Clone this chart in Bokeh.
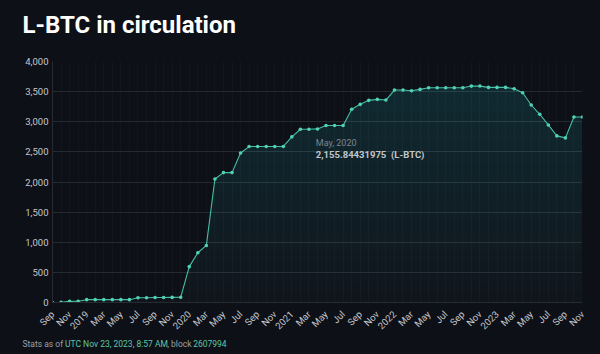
import numpy as np
from bokeh.plotting import figure
from bokeh.layouts import column
from bokeh.models import Range1d, FixedTicker, NumeralTickFormatter, Label
from bokeh.embed import file_html
from bokeh.resources import INLINE

# Monthly L-BTC in circulation, Sep 2018 .. Nov 2023
months = [
    "2018-09", "2018-10", "2018-11", "2018-12",
    "2019-01", "2019-02", "2019-03", "2019-04", "2019-05", "2019-06",
    "2019-07", "2019-08", "2019-09", "2019-10", "2019-11", "2019-12",
    "2020-01", "2020-02", "2020-03", "2020-04", "2020-05", "2020-06",
    "2020-07", "2020-08", "2020-09", "2020-10", "2020-11", "2020-12",
    "2021-01", "2021-02", "2021-03", "2021-04", "2021-05", "2021-06",
    "2021-07", "2021-08", "2021-09", "2021-10", "2021-11", "2021-12",
    "2022-01", "2022-02", "2022-03", "2022-04", "2022-05", "2022-06",
    "2022-07", "2022-08", "2022-09", "2022-10", "2022-11", "2022-12",
    "2023-01", "2023-02", "2023-03", "2023-04", "2023-05", "2023-06",
    "2023-07", "2023-08", "2023-09", "2023-10", "2023-11",
]
lbtc = [
    0, 2, 18, 20,
    47, 47, 47, 47, 47, 47,
    80, 80, 82, 82, 85, 88,
    595, 826, 947, 2050, 2155.84431975, 2156,
    2482, 2588, 2590, 2590, 2590, 2590,
    2749, 2876, 2876, 2881, 2937, 2937,
    2937, 3207, 3289, 3355, 3372, 3360,
    3526, 3526, 3515, 3537, 3565, 3565,
    3565, 3565, 3565, 3592, 3592, 3570,
    3570, 3570, 3548, 3482, 3278, 3124,
    2947, 2765, 2732, 3079, 3079,
]
x_tick_labels = [
    "Sep", "Nov", "2019", "Mar", "May", "Jul", "Sep", "Nov",
    "2020", "Mar", "May", "Jul", "Sep", "Nov",
    "2021", "Mar", "May", "Jul", "Sep", "Nov",
    "2022", "Mar", "May", "Jul", "Sep", "Nov",
    "2023", "Mar", "May", "Jul", "Sep", "Nov",
]
y_ticks = [0, 500, 1000, 1500, 2000, 2500, 3000, 3500, 4000]
title_text = "L-BTC in circulation"
footnote = [("Stats as of", "#9aa0a7"), ("UTC Nov 23, 2023, 8:57 AM", "#5cc7a9"),
            (", block", "#9aa0a7"), ("2607994", "#5cc7a9")]

BG = "#0e1017"
TEAL = "#4fd3b4"
FILL = "#5fc4c4"
FONT = "Roboto"
W = 600
HEAD_H, MAIN_H, FOOT_H = 48, 290, 16
FRAME_TOP, FRAME_BOTTOM = 61, 303


def blank(h):
    f = figure(width=W, height=h, output_backend="svg", toolbar_location=None,
               x_range=Range1d(0, W), y_range=Range1d(0, h),
               x_axis_location=None, y_axis_location=None, min_border=0,
               frame_align=False)
    f.background_fill_color = BG
    f.border_fill_color = BG
    f.outline_line_color = None
    f.grid.visible = False
    return f


# header
head = blank(HEAD_H)
head.add_layout(Label(x=22, y=HEAD_H - 24, text=title_text, text_font=FONT,
                      text_font_size="24px", text_font_style="bold",
                      text_color="#ffffff", text_baseline="middle"))

# main chart
x = np.arange(len(months))
vals = np.array(lbtc, dtype=float)
tick_pos = list(range(0, len(months), 2))

p = figure(width=W, height=MAIN_H, output_backend="svg", toolbar_location=None,
           x_range=Range1d(0, len(months) - 1), y_range=Range1d(0, 4000),
           min_border_left=52, min_border_right=18,
           min_border_top=FRAME_TOP - HEAD_H,
           min_border_bottom=HEAD_H + MAIN_H - FRAME_BOTTOM,
           frame_align=False)
p.background_fill_color = BG
p.border_fill_color = BG
p.outline_line_color = None

p.varea(x=x, y1=np.zeros_like(vals), y2=vals, fill_color=FILL, fill_alpha=0.03)
N = 24
for k in range(1, N):
    lvl = 4000.0 * k / N
    p.varea(x=x, y1=np.minimum(vals, lvl), y2=vals, fill_color=FILL, fill_alpha=0.0068)

p.line(x, vals, line_color=TEAL, line_width=1.1, line_alpha=0.9)
p.scatter(x, vals, size=3.6, fill_color=TEAL, line_color=None)

p.xaxis.ticker = FixedTicker(ticks=tick_pos)
p.xaxis.major_label_overrides = {t: lab for t, lab in zip(tick_pos, x_tick_labels)}
p.xaxis.major_label_orientation = np.pi / 4
p.yaxis.ticker = FixedTicker(ticks=y_ticks)
p.yaxis.formatter = NumeralTickFormatter(format="0,0")
for ax in (p.xaxis, p.yaxis):
    ax.axis_line_color = "#262a33"
    ax.major_tick_line_color = None
    ax.minor_tick_line_color = None
    ax.major_label_text_color = "#c4c7cc"
    ax.major_label_text_font = FONT
    ax.major_label_text_font_size = "9.5px"
p.xaxis.major_label_standoff = 4
p.yaxis.major_tick_out = 0
p.yaxis.major_tick_in = 0
p.yaxis.major_label_standoff = 4

p.ygrid.ticker = FixedTicker(ticks=y_ticks)
p.ygrid.grid_line_color = "#252a32"
p.xgrid.ticker = FixedTicker(ticks=list(range(len(months))))
p.xgrid.grid_line_color = "#13161d"

p.add_layout(Label(x=30.8, y=2650, text="May, 2020", text_font=FONT,
                   text_font_size="9px", text_color="#7e848c",
                   text_baseline="middle"))
p.add_layout(Label(x=30.8, y=2460,
                   text=f"{lbtc[20]:,.8f}\u00a0\u00a0(L-BTC)", text_font=FONT,
                   text_font_size="9.5px", text_font_style="bold",
                   text_color="#c2c6cb", text_baseline="middle"))

# footer (pieces chained at estimated Roboto 8.5px widths)
foot = blank(FOOT_H)
foot_x = [22, 64.5, 166.8, 192.7]
for (txt, col), fx in zip(footnote, foot_x):
    foot.add_layout(Label(x=fx, y=FOOT_H - 5, text=txt, text_font=FONT,
                          text_font_size="8.5px", text_color=col,
                          text_baseline="middle"))

layout = column(head, p, foot, spacing=0)
layout.styles = {"background-color": BG}
open("out.html", "w").write(file_html(layout, INLINE))
